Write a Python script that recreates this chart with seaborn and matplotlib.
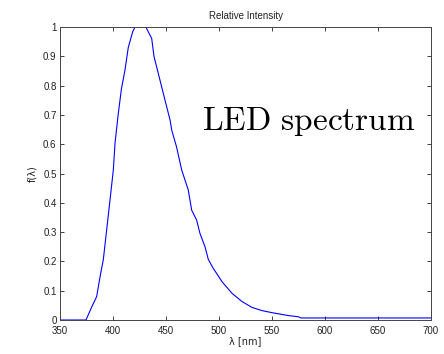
import matplotlib
matplotlib.use("Agg")
import matplotlib.pyplot as plt
import seaborn as sns
import pandas as pd

wavelength = [350, 374.5, 380, 384.6, 387.7, 390.9, 394, 397.2, 400.3, 401.9, 405, 408, 411.3,
              414.4, 418.6, 420.8, 431, 436.5, 438.7, 444.3, 449, 453.8, 455.4, 460, 464.8,
              471, 474.2, 478.9, 482, 486.8, 489.9, 494.6, 499.4, 502.8, 512.3, 521.7, 531.1,
              540.6, 550, 565.7, 575, 577, 700]
intensity = [0, 0, 0.045, 0.08, 0.146, 0.207, 0.307, 0.41, 0.512, 0.603, 0.705, 0.79, 0.853,
             0.93, 0.984, 1.0, 1.0, 0.961, 0.899, 0.819, 0.751, 0.683, 0.648, 0.59, 0.512,
             0.444, 0.375, 0.341, 0.296, 0.25, 0.207, 0.176, 0.15, 0.131, 0.091, 0.063, 0.043,
             0.032, 0.025, 0.015, 0.011, 0.007, 0.007]
x_ticks = [350, 400, 450, 500, 550, 600, 650, 700]
y_ticks = [0, 0.1, 0.2, 0.3, 0.4, 0.5, 0.6, 0.7, 0.8, 0.9, 1]
y_tick_labels = ["0", "0.1", "0.2", "0.3", "0.4", "0.5", "0.6", "0.7", "0.8", "0.9", "1"]

sns.set_style("ticks")
plt.rcParams['font.family'] = ['Liberation Sans', 'DejaVu Sans']
plt.rcParams['mathtext.fontset'] = 'cm'

df = pd.DataFrame({"wavelength": wavelength, "intensity": intensity})

fig = plt.figure(figsize=(4.44, 3.54), dpi=100)
ax = fig.add_axes([60/444, 34/354, (431-60)/444, (320-27)/354])
sns.lineplot(data=df, x="wavelength", y="intensity", ax=ax, color="#0000ff", linewidth=0.8)

ax.set_xlim(350, 700)
ax.set_ylim(0, 1)
ax.set_xticks(x_ticks)
ax.set_yticks(y_ticks)
ax.set_yticklabels(y_tick_labels)
ax.tick_params(direction="in", top=True, right=True, labelsize=7, length=3, width=0.6, pad=2.5,
               colors="#222222")
ax.tick_params(axis="x", pad=4.5)
for s in ax.spines.values():
    s.set_linewidth(0.7)
    s.set_color("#444444")
ax.set_xlabel("λ [nm]", fontsize=7, labelpad=0, family=['DejaVu Sans'], color="#222222")
ax.set_ylabel("f(λ)", fontsize=7, labelpad=4, family=['DejaVu Sans'], color="#222222")
ax.set_title("Relative Intensity", fontsize=7, pad=6, color="#222222")
ax.text(0.957, 0.648, r"$\mathrm{LED\ spectrum}$", transform=ax.transAxes, ha="right",
        va="baseline", fontsize=24, color="black")

fig.savefig("out.png", dpi=100)
